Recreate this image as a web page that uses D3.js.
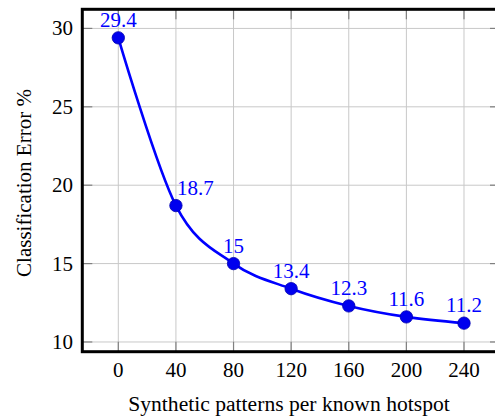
<!DOCTYPE html>
<html>
<head>
<meta charset="utf-8">
<script src="https://cdn.jsdelivr.net/npm/d3@7"></script>
<style>
  body { margin: 0; background: #fff; }
  text { font-family: "Liberation Serif", "Times New Roman", serif; }
</style>
</head>
<body>
<script>
// Data
var patterns = [0, 40, 80, 120, 160, 200, 240];
var errors = [29.4, 18.7, 15, 13.4, 12.3, 11.6, 11.2];
var xTicks = [0, 40, 80, 120, 160, 200, 240];
var yTicks = [10, 15, 20, 25, 30];

var data = patterns.map((p, i) => ({ x: p, y: errors[i] }));

// Plot box (right edge runs slightly past the window)
var box = { left: 82.3, top: 9.3, right: 500, bottom: 351.7 };

var svg = d3.select("body")
    .append("svg")
    .attr("width", 495)
    .attr("height", 420);

// Scales, limits enlarged like pgfplots
var x = d3.scaleLinear()
    .domain([-25, 265])
    .range([box.left, box.right]);
var y = d3.scaleLinear()
    .domain([9.38, 31.22])
    .range([box.bottom, box.top]);

// Grid
svg.append("g")
    .selectAll("line")
    .data(xTicks)
    .join("line")
    .attr("x1", d => x(d)).attr("x2", d => x(d))
    .attr("y1", box.top).attr("y2", box.bottom)
    .attr("stroke", "#c8c8c8")
    .attr("stroke-width", 1);
svg.append("g")
    .selectAll("line")
    .data(yTicks)
    .join("line")
    .attr("x1", box.left).attr("x2", box.right)
    .attr("y1", d => y(d)).attr("y2", d => y(d))
    .attr("stroke", "#c8c8c8")
    .attr("stroke-width", 1);

// Inner ticks on all four sides
var tickLen = 10;
var ticks = svg.append("g").attr("stroke", "#808080").attr("stroke-width", 1.2);
xTicks.forEach(function (t) {
  ticks.append("line").attr("x1", x(t)).attr("x2", x(t)).attr("y1", box.bottom).attr("y2", box.bottom - tickLen);
  ticks.append("line").attr("x1", x(t)).attr("x2", x(t)).attr("y1", box.top).attr("y2", box.top + tickLen);
});
yTicks.forEach(function (t) {
  ticks.append("line").attr("x1", box.left).attr("x2", box.left + tickLen).attr("y1", y(t)).attr("y2", y(t));
  ticks.append("line").attr("x1", box.right).attr("x2", box.right - tickLen).attr("y1", y(t)).attr("y2", y(t));
});

// Frame
svg.append("rect")
    .attr("x", box.left)
    .attr("y", box.top)
    .attr("width", box.right - box.left)
    .attr("height", box.bottom - box.top)
    .attr("fill", "none")
    .attr("stroke", "#000")
    .attr("stroke-width", 3);

// Tick labels
svg.append("g")
    .selectAll("text")
    .data(xTicks)
    .join("text")
    .attr("x", d => x(d))
    .attr("y", 377)
    .attr("text-anchor", "middle")
    .style("font-size", "21px")
    .text(d => d);
svg.append("g")
    .selectAll("text")
    .data(yTicks)
    .join("text")
    .attr("x", 73)
    .attr("y", d => y(d))
    .attr("dy", "0.33em")
    .attr("text-anchor", "end")
    .style("font-size", "21px")
    .text(d => d);

// Axis labels
svg.append("text")
    .attr("x", 289)
    .attr("y", 411)
    .attr("text-anchor", "middle")
    .style("font-size", "21.6px")
    .text("Synthetic patterns per known hotspot");
svg.append("text")
    .attr("transform", "rotate(-90)")
    .attr("x", -183)
    .attr("y", 31)
    .attr("text-anchor", "middle")
    .style("font-size", "21px")
    .text("Classification Error %");

// Smooth line
var line = d3.line()
    .x(d => x(d.x))
    .y(d => y(d.y))
    .curve(d3.curveCardinal.tension(0));
svg.append("path")
    .datum(data)
    .attr("fill", "none")
    .attr("stroke", "#0000ff")
    .attr("stroke-width", 2.6)
    .attr("d", line);

// Markers
svg.append("g")
    .selectAll("circle")
    .data(data)
    .join("circle")
    .attr("cx", d => x(d.x))
    .attr("cy", d => y(d.y))
    .attr("r", 6.2)
    .attr("fill", "#0000ee")
    .attr("stroke", "#0000b0")
    .attr("stroke-width", 0.8);

// Value labels (the 18.7 label sits to the right of its point)
svg.append("g")
    .selectAll("text")
    .data(data)
    .join("text")
    .attr("x", (d, i) => x(d.x) + (i === 1 ? 1 : 0))
    .attr("y", d => y(d.y) - 11)
    .attr("text-anchor", (d, i) => i === 1 ? "start" : "middle")
    .attr("fill", "#0000ff")
    .style("font-size", "21px")
    .text(d => d.y);
</script>
</body>
</html>
